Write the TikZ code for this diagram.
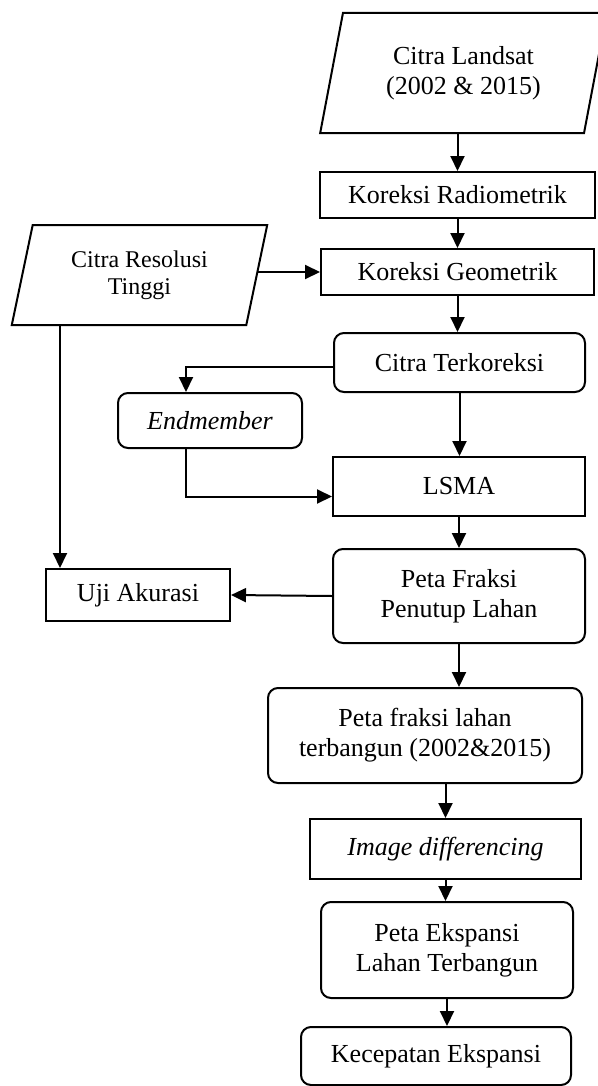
\documentclass[tikz,border=0pt]{standalone}
\usepackage{fontspec}
\setmainfont{Liberation Serif}
\usetikzlibrary{shapes.geometric}
\usetikzlibrary{arrows.meta}

\begin{document}
\begin{tikzpicture}[x=0.5pt, y=-0.5pt,
    box/.style={draw, line width=1pt, align=center, inner sep=2pt, font=\fontsize{13}{15}\selectfont},
    rbox/.style={box, rounded corners=5pt},
    dat/.style={box, trapezium, trapezium left angle=76, trapezium right angle=104, trapezium stretches=true},
    arr/.style={line width=1pt, -{Triangle[length=7.5pt, width=7pt]}}]
    \useasboundingbox (0, 0) rectangle (598, 1086);
    % input data
    \node [dat, minimum width=144pt, minimum height=60pt] (0) at (463.5, 73) {Citra Landsat\\(2002 \& 2015)};
    \node [dat, minimum width=128.5pt, minimum height=50pt, font=\fontsize{12}{13.5}\selectfont] (3) at (139.5, 275) {Citra Resolusi\\Tinggi};
    % corrections
    \node [box, minimum width=137.5pt, minimum height=23pt] (1) at (457.5, 195) {Koreksi Radiometrik};
    \node [box, minimum width=136.5pt, minimum height=23pt] (2) at (457.5, 272) {Koreksi Geometrik};
    \node [rbox, minimum width=125.5pt, minimum height=29.5pt] (4) at (459.5, 362.5) {Citra Terkoreksi};
    % unmixing
    \node [rbox, minimum width=92pt, minimum height=27.5pt] (5) at (210, 420.5) {\itshape Endmember};
    \node [box, minimum width=126pt, minimum height=29.5pt] (6) at (459, 486.5) {LSMA};
    \node [rbox, minimum width=126pt, minimum height=47pt] (7) at (459, 596) {Peta Fraksi\\Penutup Lahan};
    \node [box, minimum width=92pt, minimum height=26pt] (8) at (138, 595) {Uji Akurasi};
    % change detection
    \node [rbox, minimum width=157pt, minimum height=47.5pt] (9) at (425, 735.5) {Peta fraksi lahan\\terbangun (2002\&2015)};
    \node [box, minimum width=135.5pt, minimum height=30pt] (10) at (445.5, 849) {\itshape Image differencing};
    \node [rbox, minimum width=126pt, minimum height=48pt] (11) at (447, 950) {Peta Ekspansi\\Lahan Terbangun};
    \node [rbox, minimum width=135pt, minimum height=29pt] (12) at (436, 1056) {Kecepatan Ekspansi};
    \coordinate (13) at ([xshift=-12pt]5.north);
    \coordinate (14) at ([xshift=-39pt]8.north);
    % connectors
    \draw [arr] (1.north |- 0.south) to (1.north);
    \draw [arr] (1.south) to (2.north);
    \draw [arr] (3.east |- 2.west) to (2.west);
    \draw [arr] (2.south) to (2.south |- 4.north);
    \draw [arr] ([yshift=-2pt]4.west) -| (13);
    \draw [arr] (4.south) to (4.south |- 6.north);
    \draw [arr] (13 |- 5.south) |- ([yshift=-5pt]6.west);
    \draw [arr] (6.south) to (6.south |- 7.north);
    \draw [arr] (7.west) to (8.east);
    \draw [arr] (14 |- 3.south) to (14);
    \draw [arr] (7.south) to (7.south |- 9.north);
    \draw [arr] (10.north |- 9.south) to (10.north);
    \draw [arr] (10.south) to (10.south |- 11.north);
    \draw [arr] (11.south) to (11.south |- 12.north);
\end{tikzpicture}
\end{document}
